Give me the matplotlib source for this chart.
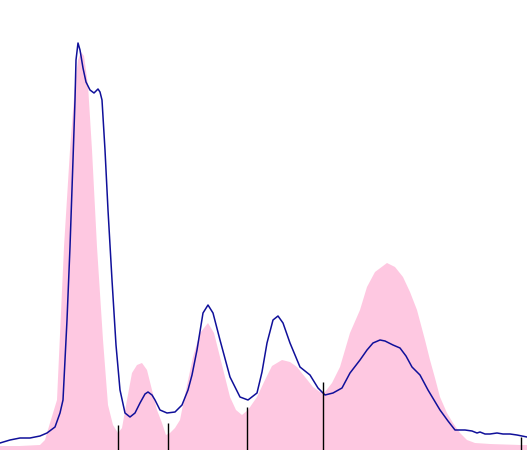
import matplotlib
matplotlib.use('Agg')
import matplotlib.pyplot as plt

# smooth density (pink fill): position, height
fill_x = [0, 20, 40, 45, 50, 57, 64, 70, 75, 78, 81, 84, 88, 92, 97, 103, 108, 113,
          118, 122, 127, 132, 137, 142, 147, 152, 157, 162, 166, 170, 175, 180, 186,
          193, 200, 208, 214, 220, 230, 236, 242, 248, 257, 265, 272, 282, 290, 297,
          305, 313, 320, 325, 332, 340, 350, 360, 367, 375, 387, 395, 403, 410, 417,
          425, 430, 435, 440, 447, 453, 460, 467, 475, 490, 520, 527]
fill_h = [4, 4, 5, 10, 27, 50, 203, 300, 365, 390, 398, 394, 365, 300, 203, 110, 45, 25,
          17, 22, 50, 77, 85, 87, 80, 60, 40, 27, 15, 17, 22, 30, 60,
          93, 117, 127, 117, 93, 53, 40, 35, 40, 53, 70, 84, 90, 88, 83,
          73, 63, 58, 58, 67, 83, 117, 140, 163, 178, 187, 183, 173, 158, 140,
          110, 90, 72, 53, 37, 27, 17, 10, 7, 6, 5, 5]

# raw density (blue line)
line_x = [0, 10, 20, 30, 40, 47, 55, 60, 63, 67, 70, 73, 75, 76, 78, 80, 83, 86, 90,
          94, 98, 100, 102, 105, 108, 112, 116, 120, 125, 130, 135, 140, 145, 148,
          152, 155, 160, 167, 175, 182, 188, 192, 197, 203, 208, 213, 220, 230, 240,
          248, 257, 262, 267, 273, 278, 283, 290, 300, 310, 318, 325, 333, 342, 350,
          360, 367, 373, 380, 385, 393, 400, 406, 412, 420, 428, 440, 448, 455, 465,
          472, 477, 480, 485, 490, 497, 503, 510, 517, 527]
line_h = [7, 10, 12, 12, 14, 17, 23, 37, 50, 130, 203, 290, 350, 390, 407, 400, 382,
          368, 360, 357, 361, 358, 350, 300, 240, 170, 105, 60, 37, 33, 37, 47, 56, 58,
          55, 50, 40, 37, 38, 45, 60, 75, 100, 137, 145, 137, 110, 73, 53,
          50, 57, 78, 107, 130, 134, 127, 107, 83, 75, 62, 55, 57, 62, 77,
          90, 100, 107, 110, 109, 105, 102, 94, 83, 75, 60, 40, 29, 20, 20,
          19, 17, 18, 16, 16, 17, 16, 16, 15, 13]

# segment boundaries
cut_x = [118, 168, 247, 323, 521]
cut_h = [25, 27, 43, 68, 13]

fig = plt.figure(figsize=(5.27, 4.5), dpi=100)
ax = fig.add_axes([0, 0, 1, 1])
ax.fill_between(fill_x, 0, fill_h, color='#fec8e1', linewidth=0)
ax.plot(line_x, line_h, color='#10109a', linewidth=1.1)
ax.vlines(cut_x, 0, cut_h, color='black', linewidth=1)
ax.set_xlim(0, 527)
ax.set_ylim(0, 450)
ax.axis('off')
fig.savefig('out.png', dpi=100)
